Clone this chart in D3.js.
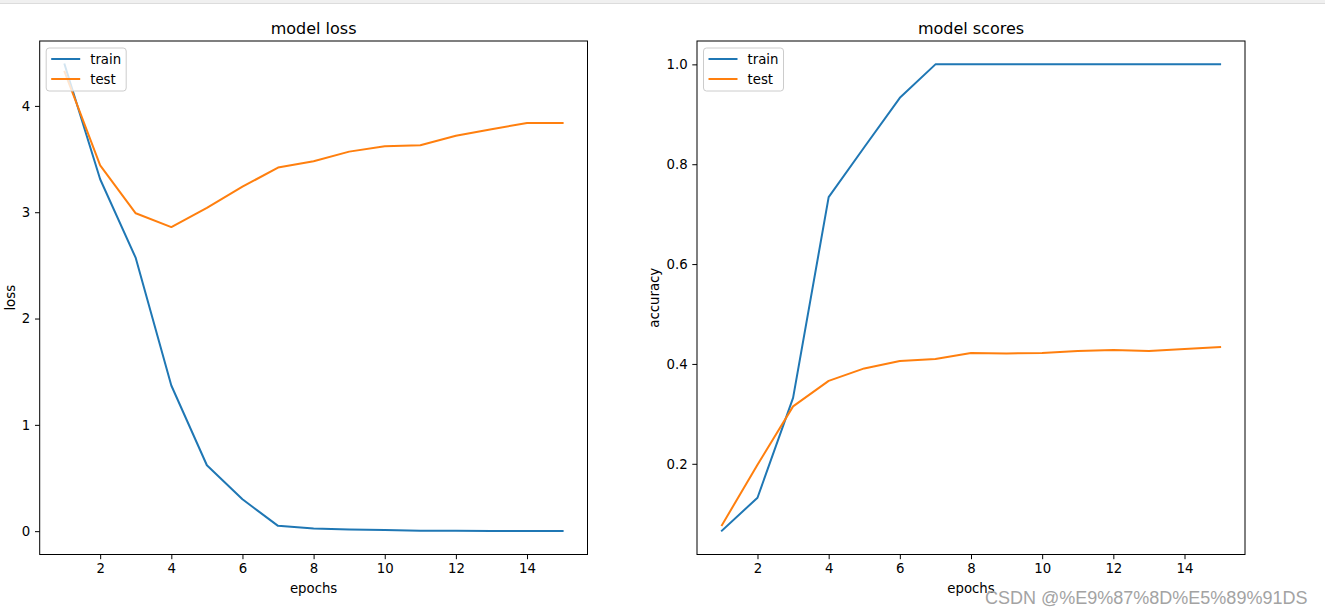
<!DOCTYPE html>
<html>
<head>
<meta charset="utf-8">
<script src="https://cdn.jsdelivr.net/npm/d3@7"></script>
<style>
  html, body { margin: 0; padding: 0; background: #fff; }
  svg { display: block; }
  text { font-family: "DejaVu Sans", sans-serif; }
</style>
</head>
<body>
<script>
// ---- data ----
const epochs = [1,2,3,4,5,6,7,8,9,10,11,12,13,14,15];
const trainLoss = [4.39,3.31,2.57,1.37,0.62,0.30,0.05,0.025,0.015,0.01,0.005,0.003,0.002,0.002,0.001];
const testLoss  = [4.32,3.44,2.99,2.86,3.04,3.24,3.42,3.48,3.57,3.62,3.63,3.72,3.78,3.84,3.84];
const trainAcc  = [0.066,0.132,0.332,0.734,0.834,0.933,1.0,1.0,1.0,1.0,1.0,1.0,1.0,1.0,1.0];
const testAcc   = [0.077,0.198,0.315,0.366,0.391,0.406,0.410,0.422,0.421,0.422,0.426,0.428,0.426,0.430,0.434];
const xTicks = [2,4,6,8,10,12,14];
const lossTicks = [0,1,2,3,4];
const accTicks = [0.2,0.4,0.6,0.8,1.0];
const seriesNames = ["train","test"];
const colors = ["#1f77b4","#ff7f0e"];

const W = 1325, H = 615;
const svg = d3.select("body").append("svg").attr("width", W).attr("height", H);

// top strip of browser page
svg.append("rect").attr("x",0).attr("y",0).attr("width",W).attr("height",3).attr("fill","#f0f0f0");
svg.append("line").attr("x1",0).attr("x2",W).attr("y1",3.5).attr("y2",3.5).attr("stroke","#dcdcdc");

function panel(opts) {
  const {left, right, top, bottom, series, yDomain, yTicks, yFmt, title, ylabel, ylabelX} = opts;
  const x = d3.scaleLinear().domain([0.3, 15.7]).range([left, right]);
  const y = d3.scaleLinear().domain(yDomain).range([bottom, top]);
  const g = svg.append("g");

  // lines
  const line = d3.line().x((d,i)=>x(epochs[i])).y(d=>y(d));
  series.forEach((s, k) => {
    g.append("path").datum(s).attr("d", line)
      .attr("fill","none").attr("stroke", colors[k]).attr("stroke-width", 2)
      .attr("stroke-linejoin","round").attr("stroke-linecap","square");
  });

  // axes
  const xa = g.append("g").attr("transform", `translate(0,${bottom})`)
    .call(d3.axisBottom(x).tickValues(xTicks).tickSize(4.7).tickPadding(4.7).tickFormat(d3.format("d")));
  const ya = g.append("g").attr("transform", `translate(${left},0)`)
    .call(d3.axisLeft(y).tickValues(yTicks).tickSize(4.7).tickPadding(4.7).tickFormat(yFmt));
  [xa, ya].forEach(a => {
    a.select(".domain").remove();
    a.selectAll("line").attr("stroke","#000").attr("stroke-width",1);
    a.selectAll("text").attr("fill","#000").style("font-size","13.3px").style("font-family","DejaVu Sans, sans-serif");
  });

  // frame
  g.append("rect").attr("x", left).attr("y", top).attr("width", right-left).attr("height", bottom-top)
    .attr("fill","none").attr("stroke","#000").attr("stroke-width",1);

  // title
  g.append("text").attr("x",(left+right)/2).attr("y", 33.5).attr("text-anchor","middle")
    .style("font-size","16px").attr("fill","#000").text(title);
  // x label
  g.append("text").attr("x",(left+right)/2).attr("y", 593).attr("text-anchor","middle")
    .style("font-size","13.3px").attr("fill","#000").text("epochs");
  // y label
  g.append("text").attr("transform", `translate(${ylabelX},${(top+bottom)/2}) rotate(-90)`)
    .attr("text-anchor","middle").style("font-size","13.3px").attr("fill","#000").text(ylabel);

  // legend
  const lx = left + 6.5, ly = top + 7;
  const lg = g.append("g");
  lg.append("rect").attr("x", lx).attr("y", ly).attr("width", opts.legendW).attr("height", 43)
    .attr("rx", 3).attr("fill","#fff").attr("fill-opacity",0.8).attr("stroke","#cccccc").attr("stroke-width",1);
  seriesNames.forEach((n, k) => {
    const yy = ly + 11 + k*20;
    lg.append("line").attr("x1", lx+5).attr("x2", lx+34).attr("y1", yy).attr("y2", yy)
      .attr("stroke", colors[k]).attr("stroke-width", 2);
    lg.append("text").attr("x", lx+44).attr("y", yy+4.7).style("font-size","13.3px").attr("fill","#000").text(n);
  });
}

panel({left:39.7, right:587.5, top:41, bottom:554.5,
  series:[trainLoss, testLoss], yDomain:[-0.2195, 4.6105], yTicks:lossTicks, yFmt:d3.format("d"),
  title:"model loss", ylabel:"loss", ylabelX:15, legendW:80});
panel({left:697, right:1245, top:41, bottom:554.5,
  series:[trainAcc, testAcc], yDomain:[0.0183, 1.0468], yTicks:accTicks, yFmt:d3.format(".1f"),
  title:"model scores", ylabel:"accuracy", ylabelX:659, legendW:80});

// watermark
svg.append("text").attr("x", 985).attr("y", 603.5)
  .style("font-family","Liberation Sans, Arial, sans-serif").style("font-size","18px")
  .attr("fill","#a3a3a3").text("CSDN @%E9%87%8D%E5%89%91DS");
</script>
</body>
</html>
